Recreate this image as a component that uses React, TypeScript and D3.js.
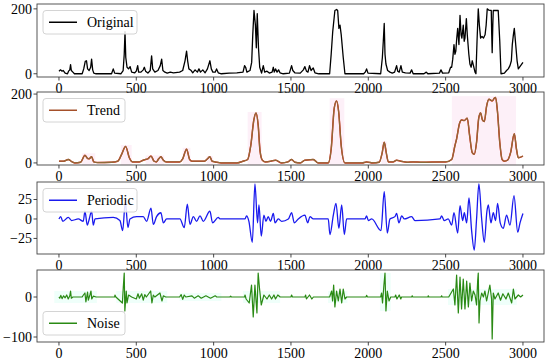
import * as d3 from "d3";

// x ticks shared by all panels
const xTicks = [0, 500, 1000, 1500, 2000, 2500, 3000];

// Original series (vertices)
const original: [number, number][] = [
  [0, 8], [10, 12], [20, 8], [28, 10], [40, 2], [55, 0], [62, 8], [70, 12], [75, 28], [80, 10], [90, 5], [100, 0],
  [150, 0], [160, 15], [170, 38], [178, 40], [185, 15], [195, 10], [205, 20], [211, 45], [218, 12], [225, 2], [240, 0],
  [340, 0], [351, 15], [360, 2], [400, 0], [415, 10], [422, 60], [427, 130], [432, 50], [440, 20], [450, 15], [460, 22], [470, 5], [490, 3],
  [500, 8], [509, 25], [515, 5], [530, 5], [545, 12], [552, 20], [560, 8], [575, 2], [590, 10], [599, 55], [606, 15], [620, 5], [640, 10],
  [655, 25], [664, 45], [672, 10], [685, 5], [700, 2], [720, 5], [740, 3], [780, 5], [800, 10], [815, 40], [825, 70], [832, 40], [840, 15],
  [855, 10], [865, 3], [880, 12], [895, 5], [905, 15], [915, 5], [930, 12], [945, 3], [960, 15], [976, 40], [985, 15], [995, 5], [1010, 5],
  [1019, 15], [1030, 3], [1050, 0], [1100, 2], [1150, 3], [1190, 5], [1200, 25], [1207, 20], [1215, 5], [1235, 10], [1246, 35], [1253, 120],
  [1261, 195], [1270, 150], [1276, 80], [1282, 185], [1290, 80], [1298, 20], [1310, 2], [1321, 25], [1330, 5], [1345, 8], [1360, 2], [1378, 5],
  [1386, 20], [1392, 5], [1400, 15], [1410, 5], [1420, 12], [1429, 3], [1450, 0], [1490, 2], [1504, 25], [1512, 10], [1525, 3], [1560, 2],
  [1580, 12], [1590, 22], [1600, 8], [1610, 5], [1620, 25], [1630, 10], [1644, 18], [1655, 3], [1680, 0], [1750, 0], [1760, 60], [1770, 130],
  [1784, 195], [1795, 198], [1802, 195], [1810, 140], [1817, 150], [1825, 120], [1838, 50], [1849, 0], [1970, 0], [1980, 5], [1989, 15],
  [1998, 2], [2080, 0], [2091, 50], [2097, 100], [2103, 155], [2108, 60], [2114, 30], [2125, 10], [2140, 5], [2155, 2], [2170, 5], [2183, 25],
  [2190, 8], [2200, 5], [2211, 25], [2220, 5], [2240, 3], [2270, 2], [2280, 12], [2290, 0], [2360, 0], [2375, 5], [2385, 0], [2460, 2],
  [2470, 12], [2480, 2], [2520, 3], [2532, 20], [2539, 20], [2546, 45], [2554, 90], [2560, 60], [2566, 70], [2572, 110], [2578, 140],
  [2586, 90], [2593, 180], [2600, 120], [2605, 110], [2614, 150], [2620, 100], [2625, 110], [2634, 170], [2640, 120], [2645, 90], [2650, 60],
  [2657, 30], [2665, 20], [2672, 40], [2680, 25], [2690, 5], [2696, 0], [2703, 100], [2711, 200], [2718, 150], [2726, 110], [2735, 115],
  [2745, 110], [2755, 120], [2762, 150], [2769, 200], [2780, 196], [2795, 195], [2798, 120], [2801, 65], [2805, 150], [2808, 195], [2825, 195],
  [2840, 195], [2850, 100], [2858, 0], [2880, 2], [2894, 10], [2905, 15], [2916, 25], [2925, 40], [2931, 90], [2938, 120], [2944, 140],
  [2953, 90], [2962, 40], [2970, 15], [2985, 25], [3000, 35],
];

// Trend control points (smooth curve through them)
const trend: [number, number][] = [
  [0, 5], [30, 5], [60, 10], [85, 3], [103, 0], [140, 2], [168, 22], [185, 13], [195, 12], [211, 18], [225, 3], [250, 1], [340, 2], [380, 5],
  [405, 25], [431, 48], [455, 15], [475, 3], [520, 3], [545, 8], [560, 10], [575, 12], [595, 20], [615, 5], [630, 3], [645, 12], [659, 18],
  [675, 8], [695, 3], [780, 3], [800, 12], [825, 40], [845, 10], [860, 5], [900, 5], [940, 5], [960, 12], [976, 18], [990, 5], [1010, 3],
  [1050, 0], [1150, 0], [1190, 5], [1220, 10], [1240, 50], [1260, 125], [1274, 145], [1288, 110], [1300, 35], [1315, 8], [1335, 3],
  [1370, 5], [1400, 8], [1440, 0], [1480, 3], [1504, 10], [1525, 2], [1560, 0], [1590, 8], [1620, 9], [1644, 10], [1677, 0], [1741, 0],
  [1760, 40], [1780, 160], [1795, 180], [1808, 150], [1825, 50], [1849, 0], [1960, 0], [1989, 3], [2030, 0], [2070, 2], [2090, 30],
  [2103, 60], [2116, 30], [2130, 3], [2160, 3], [2183, 8], [2210, 5], [2250, 2], [2290, 3], [2350, 2], [2470, 3], [2500, 3], [2539, 10],
  [2560, 50], [2571, 70], [2590, 115], [2603, 125], [2620, 123], [2640, 130], [2655, 80], [2672, 30], [2685, 25], [2700, 60], [2714, 130],
  [2726, 145], [2738, 125], [2750, 120], [2765, 165], [2780, 185], [2801, 180], [2815, 188], [2823, 190], [2835, 150], [2850, 60],
  [2865, 10], [2880, 5], [2900, 8], [2920, 30], [2944, 85], [2958, 40], [2970, 15], [3000, 20],
];

// faint pink envelope behind the trend: [x0, x1, top]
const trendBands: [number, number, number][] = [
  [150, 235, 28], [400, 470, 52], [560, 680, 22], [800, 850, 44], [955, 995, 20],
  [1220, 1310, 148], [1750, 1845, 188], [2085, 2120, 62], [2540, 2955, 194],
];

// Periodic series
const periodic: [number, number][] = [
  [0, 0], [11, 3], [25, -3], [60, 2], [82, -2], [125, 0], [157, -3], [168, 10], [183, -8], [196, 0], [211, 10], [222, -8], [233, 0],
  [351, 2], [394, -2], [412, -15], [429, 22], [446, -11], [459, 0], [502, 3], [545, 3], [567, -3], [595, 14], [610, -7], [631, 3],
  [659, 8], [675, -5], [696, 0], [782, 0], [810, -11], [830, 19], [847, -7], [869, 3], [890, -3], [912, 4], [933, -3], [976, 10],
  [993, -5], [1030, 2], [1041, 0], [1202, 0], [1213, 4], [1228, -3], [1250, -30], [1267, 45], [1284, -5], [1293, 18], [1308, -22],
  [1325, 5], [1338, -3], [1353, 3], [1368, -3], [1386, 7], [1397, -5], [1418, 0], [1440, -3], [1483, 0], [1504, 8], [1522, -5], [1547, 0],
  [1590, 5], [1608, -5], [1623, 3], [1644, 0], [1741, 0], [1752, -20], [1774, 5], [1791, 20], [1810, -12], [1828, 18], [1845, -20],
  [1860, 0], [1978, 0], [1989, 4], [2000, -2], [2022, 0], [2082, -15], [2103, 35], [2123, -18], [2140, 0], [2172, 3], [2183, 7],
  [2198, -5], [2216, 4], [2233, 0], [2280, 3], [2302, -2], [2463, 0], [2474, 4], [2491, -2], [2517, 0], [2539, -8], [2554, 8],
  [2578, -18], [2593, 17], [2610, -2], [2621, 8], [2636, -5], [2651, 27], [2668, -15], [2685, -40], [2700, 0], [2715, 45], [2733, 0],
  [2750, -30], [2767, 10], [2776, 18], [2793, -5], [2808, 8], [2823, -2], [2836, 20], [2853, -5], [2873, -12], [2894, 5], [2916, -8],
  [2942, 30], [2966, -17], [2981, -5], [3000, 7],
];

// Noise series
const noise: [number, number][] = [
  [0, 0], [5, -3], [12, 4], [20, -4], [30, 3], [40, -2], [50, 5], [60, -5], [70, 3], [75, 15], [80, -3], [90, 0], [150, 0], [158, 5],
  [168, 10], [174, -12], [185, 12], [190, -8], [200, 5], [207, 15], [212, -5], [222, 2], [240, 0], [360, 0], [362, 5], [368, 0],
  [410, -15], [416, 25], [422, 60], [426, -35], [435, 15], [440, -15], [450, 5], [470, 0], [500, -5], [511, 8], [520, -3], [535, 8],
  [545, -8], [555, 6], [565, 0], [593, 15], [601, -15], [610, 5], [620, 0], [653, 10], [666, -10], [675, 3], [690, 0], [780, 0],
  [790, 6], [800, -6], [810, 5], [820, 0], [860, 3], [875, -3], [900, 3], [920, -3], [950, 3], [980, -3], [1010, 3], [1020, 0],
  [1105, 0], [1110, 2], [1115, 0], [1200, 0], [1203, 5], [1210, -5], [1230, -15], [1245, 30], [1256, -50], [1267, 30], [1280, -40],
  [1288, 60], [1297, 20], [1308, -20], [1325, 5], [1345, -5], [1360, 5], [1375, -5], [1390, 5], [1400, -5], [1415, 5], [1430, 0],
  [1500, 0], [1504, 5], [1510, 0], [1590, 0], [1595, 5], [1600, -5], [1620, 5], [1635, -5], [1645, 0], [1750, 0], [1763, 15], [1769, -10],
  [1776, 30], [1784, -25], [1795, 15], [1806, -10], [1817, 20], [1828, -15], [1838, 20], [1849, -5], [1860, 0], [1985, 0], [1989, 4],
  [1995, 0], [2080, 0], [2086, 10], [2092, -15], [2101, 30], [2108, 60], [2114, -35], [2123, 15], [2134, -10], [2145, 0], [2172, 0],
  [2177, 5], [2185, -5], [2200, 5], [2210, -5], [2215, 0], [2280, 0], [2284, 3], [2288, 0], [2385, 0], [2388, 3], [2392, 0], [2470, 0],
  [2474, 3], [2478, 0], [2520, 0], [2550, 20], [2560, -20], [2571, 55], [2582, -40], [2593, 50], [2603, -30], [2614, 45], [2625, -30],
  [2636, 40], [2647, -25], [2657, 35], [2668, -10], [2679, 15], [2690, 5], [2700, -20], [2707, 40], [2711, 60], [2716, -65], [2722, -10],
  [2733, 10], [2744, 0], [2754, 15], [2765, -10], [2786, 30], [2797, -5], [2801, -105], [2808, 10], [2819, -5], [2840, 10], [2855, -8],
  [2870, 8], [2890, -5], [2905, 10], [2927, -15], [2938, 20], [2948, -5], [2970, 5], [2985, 0], [3000, 5],
];

// faint cyan envelope behind the noise: [x0, x1, hi, lo]
const noiseBands: [number, number, number, number][] = [
  [-30, 245, 15, -15], [370, 700, 15, -15], [780, 1050, 10, -10], [1190, 1430, 15, -15],
  [1740, 1865, 15, -15], [2075, 2145, 60, -35], [2515, 2960, 20, -20],
];

const W = 550;
const H = 362;
const FONT = "Liberation Serif";
const L = 37;
const R = 544;

interface Panel {
  top: number;
  bottom: number;
  yDomain: [number, number];
  yTicks: number[];
  label: string;
  color: string;
  legendW: number;
  legendBottom?: boolean;
}

const panels: Panel[] = [
  { top: 4, bottom: 77, yDomain: [-10, 215], yTicks: [0, 200], label: "Original", color: "#000", legendW: 94 },
  { top: 92, bottom: 165, yDomain: [-6, 206], yTicks: [0, 200], label: "Trend", color: "#a5502a", legendW: 82 },
  { top: 182, bottom: 254, yDomain: [-45, 47.5], yTicks: [-25, 0, 25], label: "Periodic", color: "#1a1aee", legendW: 94 },
  { top: 270, bottom: 342, yDomain: [-112.5, 67.5], yTicks: [-100, 0], label: "Noise", color: "#2a8a14", legendW: 82, legendBottom: true },
];

const fmt = (v: number) => (v < 0 ? "\u2212" + Math.abs(v) : String(v));

const x = d3.scaleLinear().domain([-142, 3136]).range([L, R]);

function PanelView({ p, i }: { p: Panel; i: number }): JSX.Element {
  const y = d3.scaleLinear().domain(p.yDomain).range([p.bottom, p.top]);
  const line = d3.line<[number, number]>().x(d => x(d[0])).y(d => y(d[1]));
  const smooth = d3.line<[number, number]>().x(d => x(d[0])).y(d => y(d[1])).curve(d3.curveMonotoneX);
  const clipId = `clip${i}`;
  const lh = 23.5;
  const lx = 43;
  const ly = p.legendBottom ? p.bottom - 7 - lh : p.top + 6.5;
  const ymid = ly + lh / 2;

  let content: JSX.Element | null = null;
  if (i === 0) {
    content = <path d={line(original) ?? ""} fill="none" stroke="#000" strokeWidth={1.3} strokeLinejoin="round" />;
  } else if (i === 1) {
    content = (
      <g>
        {trendBands.map((b, k) => (
          <rect key={k} x={x(b[0])} width={x(b[1]) - x(b[0])} y={y(b[2])} height={y(0) - y(b[2]) + 2} fill="#fdf0f8" />
        ))}
        <path d={smooth(trend) ?? ""} fill="none" stroke="#e8261c" strokeWidth={1.5} />
        <path d={smooth(trend) ?? ""} fill="none" stroke="#8f6a38" strokeWidth={1.3} />
      </g>
    );
  } else if (i === 2) {
    content = <path d={smooth(periodic) ?? ""} fill="none" stroke={p.color} strokeWidth={1.3} />;
  } else {
    content = (
      <g>
        {noiseBands.map((b, k) => (
          <rect key={k} x={x(b[0])} width={x(b[1]) - x(b[0])} y={y(b[2])} height={y(b[3]) - y(b[2])} fill="#effffa" />
        ))}
        <path d={line(noise) ?? ""} fill="none" stroke={p.color} strokeWidth={1.2} strokeLinejoin="round" />
      </g>
    );
  }

  return (
    <g>
      <clipPath id={clipId}>
        <rect x={L} y={p.top} width={R - L} height={p.bottom - p.top} />
      </clipPath>
      <g clipPath={`url(#${clipId})`}>{content}</g>
      <rect x={L} y={p.top} width={R - L} height={p.bottom - p.top} fill="none" stroke="#444" strokeWidth={0.9} />
      {xTicks.map(t => (
        <g key={`x${t}`}>
          <line x1={x(t)} x2={x(t)} y1={p.bottom} y2={p.bottom + 3.5} stroke="#333" strokeWidth={0.9} />
          <text x={x(t)} y={p.bottom + 16} textAnchor="middle" style={{ fontFamily: FONT, fontSize: "14px" }} fill="#000">{t}</text>
        </g>
      ))}
      {p.yTicks.map(t => (
        <g key={`y${t}`}>
          <line x1={L - 3.5} x2={L} y1={y(t)} y2={y(t)} stroke="#333" strokeWidth={0.9} />
          <text x={32} y={y(t)} dy="0.35em" textAnchor="end" style={{ fontFamily: FONT, fontSize: "14px" }} fill="#000">{fmt(t)}</text>
        </g>
      ))}
      <rect x={lx} y={ly} width={p.legendW} height={lh} rx={3} fill="#fff" fillOpacity={0.85} stroke="#d4d4d4" strokeWidth={1} />
      <line x1={lx + 6} x2={lx + 34} y1={ymid} y2={ymid} stroke={p.color} strokeWidth={1.5} />
      <text x={lx + 44} y={ymid} dy="0.35em" style={{ fontFamily: FONT, fontSize: "14px" }} fill="#000">{p.label}</text>
    </g>
  );
}

export default function App(): JSX.Element {
  return (
    <svg width={W} height={H} style={{ display: "block", background: "#fff", position: "absolute", left: 0, top: 0 }}>
      {panels.map((p, i) => <PanelView key={p.label} p={p} i={i} />)}
    </svg>
  );
}
